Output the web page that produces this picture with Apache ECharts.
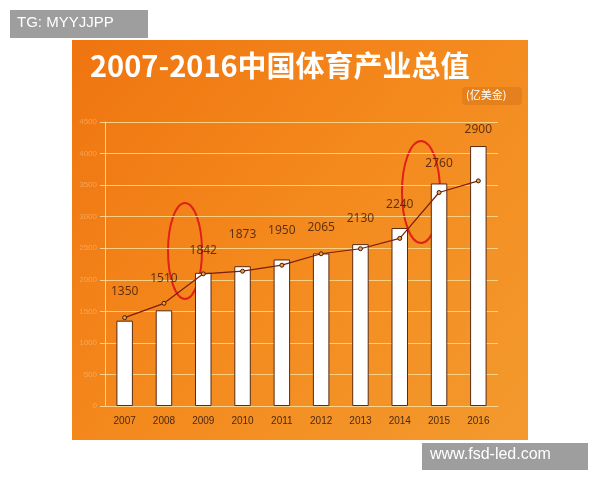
<!DOCTYPE html>
<html><head><meta charset="utf-8">
<script src="https://cdn.jsdelivr.net/npm/echarts@6/dist/echarts.min.js"></script>
<style>html,body{margin:0;background:#fff}#c{width:600px;height:480px}</style>
</head><body><div id="c"></div>
<script>
const years = ['2007','2008','2009','2010','2011','2012','2013','2014','2015','2016'];
const barValues = [1352,1516,2110,2215,2322,2417,2565,2820,3526,4119];
const lineValues = [1400,1627,2094,2136,2231,2412,2492,2656,3383,3567];
const labelTexts = ['1350','1510','1842','1873','1950','2065','2130','2240','2760','2900'];
const labelHeights = [1813,2025,2460,2714,2783,2825,2974,3185,3843,4373];
const yTicks = ['0','500','1000','1500','2000','2500','3000','3500','4000','4500'];

const chart = echarts.init(document.getElementById('c'));
chart.setOption({
  animation:false,
  graphic:[
    {type:'rect',z:-10,shape:{x:72,y:40,width:456,height:400},
     style:{fill:new echarts.graphic.LinearGradient(0,0,1,1,[{offset:0,color:'#ef7410'},{offset:0.5,color:'#f48a1e'},{offset:1,color:'#f39a2e'}])}},
    {type:'text',left:90,top:51,style:{text:'2007-2016中国体育产业总值',fill:'#fff',font:'bold 29px "Noto Sans CJK SC"'}},
    {type:'rect',shape:{x:462,y:87,width:60,height:18,r:4},style:{fill:'rgba(120,40,0,0.12)'}},
    {type:'text',left:466,top:89,style:{text:'(亿美金)',fill:'#fff',font:'11px "Noto Sans CJK SC"'}},
    {type:'ellipse',shape:{cx:185,cy:251,rx:17,ry:48},style:{fill:'none',stroke:'#e0201a',lineWidth:2}},
    {type:'ellipse',shape:{cx:421,cy:192,rx:19,ry:51},style:{fill:'none',stroke:'#e0201a',lineWidth:2}},
    {type:'rect',shape:{x:10,y:10,width:138,height:28},style:{fill:'#9e9e9e'}},
    {type:'text',left:17,top:15,style:{text:'TG: MYYJJPP',fill:'#fff',font:'15px "Liberation Sans"'}},
    {type:'rect',shape:{x:422,y:443,width:166,height:27},style:{fill:'#9e9e9e'}},
    {type:'text',left:430,top:447,style:{text:'www.fsd-led.com',fill:'#fff',font:'16px "Liberation Sans"'}}
  ],
  grid:{left:105,right:102,top:122,bottom:74},
  xAxis:{type:'category',data:years,axisLine:{lineStyle:{color:'#fbd38a'}},axisTick:{lineStyle:{color:'#fbd38a'}},
    axisLabel:{color:'#4a2a10',fontSize:10,margin:10}},
  yAxis:{type:'value',min:0,max:4500,interval:500,
    axisLine:{show:true,lineStyle:{color:'#fbd38a'}},axisTick:{show:true,lineStyle:{color:'#fbd38a'}},
    splitLine:{lineStyle:{color:'#fbcf80',width:1}},
    axisLabel:{color:'rgba(255,200,140,0.5)',fontSize:8,formatter:(v,i)=>yTicks[i]}},
  series:[
    {type:'bar',data:barValues,barWidth:'42%',itemStyle:{color:'#fff',borderColor:'#5a2a10',borderWidth:1}},
    {type:'line',data:lineValues,symbol:'circle',symbolSize:4,lineStyle:{color:'#7a1e10',width:1.2},
     itemStyle:{color:'#f5a040',borderColor:'#3a1a10',borderWidth:1}},
    {type:'scatter',symbolSize:0,data:labelHeights,
     label:{show:true,position:'inside',formatter:p=>labelTexts[p.dataIndex],color:'#3a1a0a',fontSize:12,fontFamily:'Noto Sans'}}
  ]
});
</script></body></html>
